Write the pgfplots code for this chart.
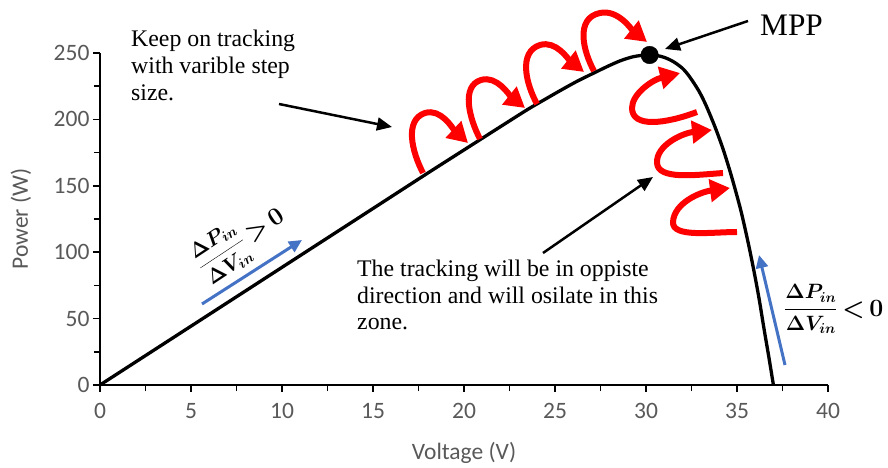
\documentclass[border=0pt]{standalone}
\usepackage{pgfplots}
\pgfplotsset{compat=1.18}
\usepackage{fontspec}
\setmainfont{Liberation Serif}
\newfontfamily\calibri{Carlito}
\usetikzlibrary{arrows.meta}
\DeclareMathSizes{20}{20}{15}{11}
\definecolor{tickgray}{HTML}{595959}
\definecolor{exblue}{HTML}{4472C4}
\newcommand{\bigrel}[1]{\vcenter{\hbox{\fontsize{24}{29}\selectfont\boldmath$\,\mathord{#1}\,0$}}}
\newcommand{\fracpos}{$\displaystyle\frac{\Delta P_{in}}{\Delta V_{in}}\bigrel{>}$}
\newcommand{\fracneg}{$\displaystyle\frac{\Delta P_{in}}{\Delta V_{in}}\bigrel{<}$}
\begin{document}
\begin{tikzpicture}
\path[use as bounding box] (0,0) rectangle (888pt,468pt);
\begin{axis}[
  at={(100pt,83pt)}, anchor=south west,
  scale only axis, width=728pt, height=332pt,
  xmin=0, xmax=40, ymin=0, ymax=250,
  axis x line*=bottom, axis y line*=left,
  axis line style={-, line width=1.6pt, black},
  xtick={0,5,...,40}, ytick={0,50,...,250},
  minor xtick={2.5,7.5,...,37.5}, minor ytick={25,75,...,225},
  tick align=outside, major tick length=7pt, minor tick length=6pt,
  every tick/.style={black, line width=1.6pt},
  tick label style={font={\calibri\fontsize{23.5}{28}\selectfont}, text=tickgray},
  xticklabel style={yshift=-8pt},
  /pgf/number format/assume math mode=true,
  xlabel={Voltage (V)}, ylabel={Power (W)},
  label style={font={\calibri\fontsize{23.5}{28}\selectfont}, text=tickgray},
  xlabel style={at={(axis description cs:0.5,-0.2048)}, anchor=center},
  ylabel style={at={(axis description cs:-0.1085,0.5)}, anchor=center},
  clip=false,
]
\addplot[black, line width=3.3pt, smooth, tension=0.5] coordinates {
(0,0) (5,44.3) (10,88.6) (15,132.9) (18,159.5) (20,177) (22,194.5) (23.5,207.5)
(24.5,215.5) (25.3,221.8) (26.2,228.6) (27.1,234.7) (27.9,240) (28.6,244.2)
(29.3,247.2) (30,248.5) (30.5,248.3) (31,246.7) (31.5,243.5) (32,238.5)
(32.4,232) (32.9,221.5) (33.3,210.5) (33.8,194) (34.25,177) (34.7,157)
(35.2,132) (35.6,108) (35.9,88) (36.2,66) (36.5,41) (36.75,21) (37,0)
};
\addplot[only marks, mark=*, mark size=8.8pt, black] coordinates {(30.2,248.5)};
\end{axis}
\begin{scope}[x=1pt, y=-1pt, shift={(0pt,468pt)}]
  \begin{scope}[red, line width=6pt, -{Triangle[length=20pt,width=22pt]}]
    \draw (423,173) .. controls (412,152) and (404,120) .. (425,113) .. controls (441,108) and (453,129) .. (468,143);
    \draw (480,139) .. controls (469,118) and (461,86) .. (481,80) .. controls (497,75) and (510,96) .. (525,108);
    \draw (537,104) .. controls (526,84) and (518,52) .. (540,45) .. controls (556,40) and (569,60) .. (584,72);
    \draw (594,71) .. controls (583,51) and (575,18) .. (600,13) .. controls (618,9) and (632,30) .. (647,42);
    \draw (697,112) .. controls (665,124) and (632,128) .. (632,108) .. controls (632,94) and (652,80) .. (680,73);
    \draw (723,173) .. controls (695,175) and (658,180) .. (657,163) .. controls (656,145) and (683,133) .. (712,130);
    \draw (737,232) .. controls (712,232) and (672,238) .. (673,222) .. controls (674,203) and (700,192) .. (730,188);
  \end{scope}
  \begin{scope}[black, line width=2.5pt, -{Triangle[length=15pt,width=13pt]}]
    \draw (279,104) -- (392,127);
    \draw (748,21) -- (665,49);
    \draw (543,253) -- (653,177);
  \end{scope}
  \begin{scope}[exblue, line width=3pt, -{Triangle[length=13pt,width=12pt]}]
    \draw (202,304) -- (302,240);
    \draw (785,365) -- (759,255);
  \end{scope}
  \begin{scope}[every node/.style={anchor=base west, inner sep=0pt, font={\fontsize{23.8}{27}\selectfont}}]
    \node at (131,46.5) {Keep on tracking};
    \node at (131,73.5) {with varible step};
    \node at (131,100.5) {size.};
    \node at (357,277) {The tracking will be in oppiste};
    \node at (357,303.5) {direction and will osilate in this};
    \node at (357,330) {zone.};
    \node[font={\fontsize{31.3}{36}\selectfont}] at (760,36) {MPP};
  \end{scope}
  \node[rotate=33.5, anchor=west, inner sep=0pt, font={\fontsize{20}{24}\selectfont\boldmath}] at (199,268.5) {\fracpos};
  \node[anchor=west, inner sep=0pt, font={\fontsize{20}{24}\selectfont\boldmath}] at (784,309) {\fracneg};
\end{scope}
\end{tikzpicture}
\end{document}
